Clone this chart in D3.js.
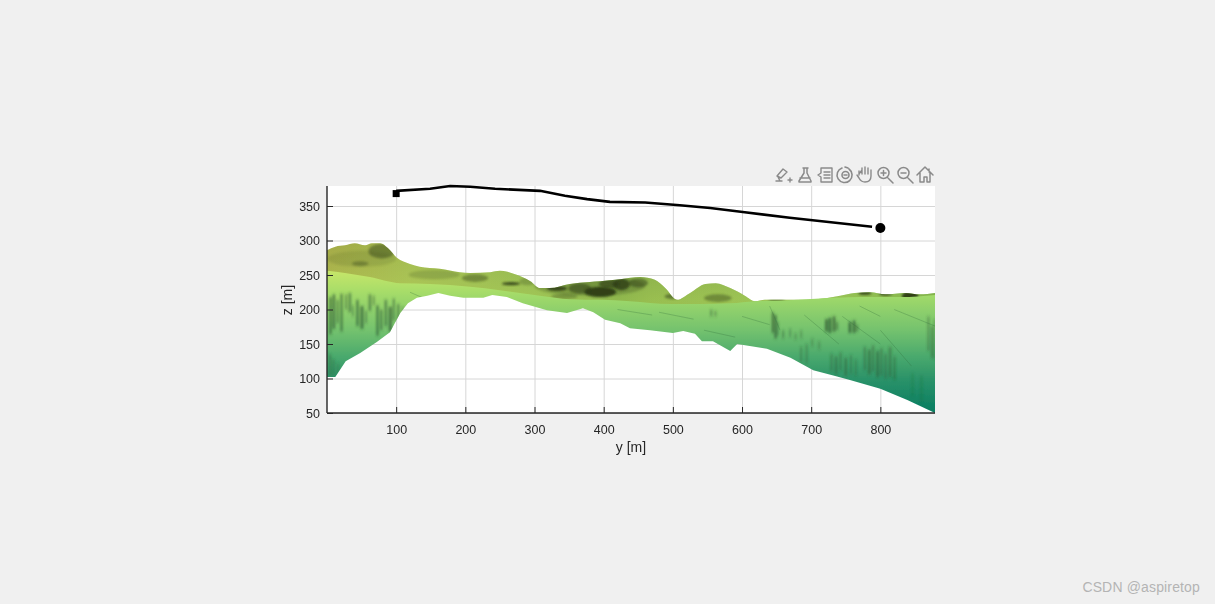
<!DOCTYPE html>
<html><head><meta charset="utf-8">
<script src="https://cdn.jsdelivr.net/npm/d3@7"></script>
<style>html,body{margin:0;padding:0;background:#f0f0f0;overflow:hidden}svg{display:block}text{font-family:"Liberation Sans",Arial,sans-serif}</style>
</head><body><svg id="c" width="1215" height="604"></svg>
<script>
// Flight path [y, z]
const pathY=[100,149,178,207,243,308,344,376,409,460,510,554,604,669,788];
const pathZ=[372,375,379,378,375,372,365,360,356,355,351,347,341,333,320];
const startPoint=[100,368], endPoint=[800,318];
// Terrain silhouette: far ridge
const ridgeY=[0,12,26,40,55,65,77,88,101,120,134,163,192,207,236,250,272,294,308,322,351,380,395,424,453,474,489,506,525,547,562,583,604,619,633,662,684,706,742,763,785,807,836,857,879];
const ridgeZ=[286,291,293,296,293,296,296,289,275,266,262,259,254,253,254,256,251,241,231,231,237,240,241,244,247,243,231,214,224,237,238,231,220,212,214,214,214,215,220,224,225,222,224,222,224];
// Fold line between far slope and near face
const foldY=[0,26,62,106,149,207,250,308,351,395,438,496,539,583,619,662,713,771,829,879];
const foldZ=[256,253,247,238,237,233,228,220,215,214,212,208,208,209,212,213,216,218,218,221];
// Lower edge of the near face
const edgeY=[0,12,27,48,72,91,106,117,130,145,161,178,197,226,239,260,283,318,347,370,385,402,424,438,467,500,515,532,542,558,583,593,636,670,703,756,800,839,879];
const edgeZ=[102,102,125,137,153,167,195,209,217,220,224,220,217,217,221,218,209,199,195,202,196,185,180,173,170,166,169,165,154,154,140,150,143,130,112,98,85,69,50];
// Vertical streaks on the near face [y,width,zTop,zBottom,opacity]
const faceStreaks=[[3,4,218,164,.55],[8,4,222,172,.6],[14,3,214,180,.5],[19,4,223,168,.5],[26,3,222,200,.45],[31,4,224,196,.5],[36,3,206,190,.35],[42,4,214,176,.55],[48,5,205,172,.6],[55,3,198,180,.4],[60,4,222,198,.5],[66,3,220,206,.4],[71,4,206,162,.55],[77,3,200,170,.6],[83,4,214,176,.5],[89,5,204,168,.6],[95,3,216,184,.5],[101,4,208,176,.45],[108,3,204,186,.35],
[3,3,135,104,.4],[8,3,128,104,.35],[14,3,122,106,.25],
[554,3,200,190,.45],[560,3,198,190,.4],[643,3,196,166,.7],[647,3,192,158,.75],[651,2,182,162,.55],[658,3,170,158,.4],[668,3,172,160,.35],[676,3,166,156,.3],[684,3,170,158,.3],
[720,4,186,168,.7],[725,4,188,166,.75],[731,4,190,168,.7],[736,3,182,170,.5],[754,4,182,166,.75],[760,4,184,166,.7],[765,3,178,168,.5],
[700,3,158,146,.3],[710,3,154,142,.3],[684,3,146,124,.35],[692,3,150,122,.35],
[728,3,136,110,.4],[734,4,132,106,.45],[741,3,138,112,.4],[748,4,130,104,.45],[756,3,134,106,.35],[763,3,128,104,.3],
[776,3,146,112,.45],[782,4,142,106,.5],[788,3,148,110,.45],[794,4,140,102,.5],[800,3,144,104,.45],[806,3,136,100,.45],[812,4,146,102,.4],[819,3,132,98,.4],
[868,3,190,140,.4],[873,3,176,130,.45],[877,2,186,128,.4],[845,3,108,74,.15],[858,3,104,66,.15]];
// Dark hollows on the far slope [y0,y1,zTop,zBottom,opacity]
const ridgeShade=[[300,460,248,220,.25],[372,418,233,218,.95],[253,279,240,235,.85],[318,347,234,227,.85],[413,438,245,228,.8],[60,98,295,274,.45],[36,60,270,263,.35],[195,233,251,240,.4],[545,585,222,211,.4],[436,464,245,232,.5],[831,855,226,213,.95],[488,512,223,215,.5],[349,382,238,223,.55],[393,422,243,231,.65],[768,787,227,221,.8],[798,817,226,220,.8],[278,302,246,235,.25],[638,662,217,212,.7],[118,192,257,244,.18],[324,362,223,215,.3],[0,100,285,262,.12]];
// Thin creases on the near face [y0,z0,y1,z1]
const creases=[[640,205,655,170],[690,192,740,150],[745,190,800,150],[800,170,845,118],[600,190,640,178],[480,196,530,186],[820,200,879,176],[420,200,470,192],[120,225,150,212],[545,170,590,160],[770,205,800,190]];
const faceStops=[[256,"#c6e669"],[225,"#a6dc69"],[200,"#8fd06c"],[170,"#74c26e"],[130,"#48a86d"],[100,"#2c9369"],[50,"#067c61"]];
const ridgeStops=[[0,"#a4aa46"],[120,"#a0ba4e"],[300,"#8cb44c"],[420,"#6f9c40"],[470,"#7fa845"],[560,"#84ad48"],[700,"#86b64f"],[879,"#5f9a3e"]];
const yTicks=[100,200,300,400,500,600,700,800], zTicks=[50,100,150,200,250,300,350];

const svg=d3.select("#c");
const L=327,R=935,T=186,B=413;
const x=d3.scaleLinear().domain([0,879]).range([L,R]);
const z=d3.scaleLinear().domain([50,379]).range([B,T]);
const defs=svg.append("defs");
const fg=defs.append("linearGradient").attr("id","fg").attr("gradientUnits","userSpaceOnUse").attr("x1",0).attr("x2",0).attr("y1",z(256)).attr("y2",z(50));
faceStops.forEach(s=>fg.append("stop").attr("offset",(256-s[0])/206).attr("stop-color",s[1]));
const rg=defs.append("linearGradient").attr("id","rg").attr("gradientUnits","userSpaceOnUse").attr("x1",L).attr("x2",R).attr("y1",0).attr("y2",0);
ridgeStops.forEach(s=>rg.append("stop").attr("offset",s[0]/879).attr("stop-color",s[1]));
const rl=defs.append("linearGradient").attr("id","rl").attr("gradientUnits","userSpaceOnUse").attr("x1",0).attr("x2",0).attr("y1",z(296)).attr("y2",z(215));
rl.append("stop").attr("offset",0).attr("stop-color","#ccd870").attr("stop-opacity",0);
rl.append("stop").attr("offset",1).attr("stop-color","#bfe062").attr("stop-opacity",.4);
const b1=defs.append("filter").attr("id","b1").attr("x","-30%").attr("y","-30%").attr("width","160%").attr("height","160%");
b1.append("feGaussianBlur").attr("stdDeviation",1.1);
const b2=defs.append("filter").attr("id","b2").attr("filterUnits","userSpaceOnUse").attr("x",L).attr("y",T).attr("width",R-L).attr("height",B-T);
b2.append("feGaussianBlur").attr("stdDeviation","0.8 1.6");
const b3=defs.append("filter").attr("id","b3").attr("x","-2%").attr("y","-2%").attr("width","104%").attr("height","104%");
b3.append("feGaussianBlur").attr("stdDeviation",.4);

const ridgePts=ridgeY.map((d,i)=>[d,ridgeZ[i]]), foldPts=foldY.map((d,i)=>[d,foldZ[i]]), edgePts=edgeY.map((d,i)=>[d,edgeZ[i]]);
const line=d3.line().x(d=>x(d[0])).y(d=>z(d[1]));
const curve=d3.line().x(d=>x(d[0])).y(d=>z(d[1])).curve(d3.curveMonotoneX);
const rev=a=>a.slice().reverse();
const ridgeD=curve(ridgePts)+"L"+line(rev(foldPts.map(d=>[d[0],d[1]-4]))).slice(1)+"Z";
const faceD=curve(foldPts)+"L"+line(rev(edgePts)).slice(1)+"Z";
defs.append("clipPath").attr("id","cr").append("path").attr("d",ridgeD);
defs.append("clipPath").attr("id","cf").append("path").attr("d",faceD);

// plot background + grid
svg.append("rect").attr("x",L).attr("y",T).attr("width",R-L).attr("height",B-T).attr("fill","#fff");
const g=svg.append("g");
g.append("g").attr("transform",`translate(0,${B})`).call(d3.axisBottom(x).tickValues(yTicks).tickSize(-(B-T)).tickFormat(""));
g.append("g").attr("transform",`translate(${L},0)`).call(d3.axisLeft(z).tickValues(zTicks).tickSize(-(R-L)).tickFormat(""));
g.selectAll(".domain").remove();
g.selectAll(".tick line").attr("stroke","#d6d6d6").attr("stroke-width",1);

// terrain
const ter=svg.append("g").attr("filter","url(#b3)");
ter.append("path").attr("d",ridgeD).attr("fill","url(#rg)");
ter.append("path").attr("d",ridgeD).attr("fill","url(#rl)");
ter.append("g").attr("clip-path","url(#cr)").selectAll("ellipse").data(ridgeShade).join("ellipse")
 .attr("cx",d=>x((d[0]+d[1])/2)).attr("rx",d=>(x(d[1])-x(d[0]))/2).attr("cy",d=>z((d[2]+d[3])/2)).attr("ry",d=>(z(d[3])-z(d[2]))/2)
 .attr("opacity",d=>d[4]).attr("fill","#2f3d17").attr("filter","url(#b1)");
ter.append("path").attr("d",faceD).attr("fill","url(#fg)");
const fs=ter.append("g").attr("clip-path","url(#cf)");
fs.append("g").attr("filter","url(#b2)").selectAll("rect").data(faceStreaks).join("rect")
 .attr("x",d=>x(d[0])).attr("width",d=>x(d[0]+d[1])-x(d[0])).attr("y",d=>z(d[2])).attr("height",d=>z(d[3])-z(d[2]))
 .attr("opacity",d=>d[4]).attr("fill","#2c5630");
fs.append("g").selectAll("line").data(creases).join("line")
 .attr("x1",d=>x(d[0])).attr("y1",d=>z(d[1])).attr("x2",d=>x(d[2])).attr("y2",d=>z(d[3]))
 .attr("stroke","#2f6a3a").attr("stroke-width",.7).attr("opacity",.4);

// axes
const ax=svg.append("g").attr("transform",`translate(0,${B})`).call(d3.axisBottom(x).tickValues(yTicks).tickSize(-6).tickPadding(12));
const az=svg.append("g").attr("transform",`translate(${L},0)`).call(d3.axisLeft(z).tickValues(zTicks).tickSize(-6).tickPadding(7));
[ax,az].forEach(a=>{a.selectAll(".domain").attr("stroke","#262626").attr("stroke-width",1.4).attr("d",a===ax?`M${L},0H${R}`:`M0,${T}V${B}`);
 a.selectAll(".tick line").attr("stroke","#262626");
 a.selectAll("text").attr("fill","#262626").style("font-size","12.5px").style("font-family",'"Liberation Sans",Arial,sans-serif');});
svg.append("text").attr("x",631).attr("y",452).attr("text-anchor","middle").attr("fill","#262626").style("font-size","14px").text("y [m]");
svg.append("text").attr("transform","translate(292,300) rotate(-90)").attr("text-anchor","middle").attr("fill","#262626").style("font-size","14px").text("z [m]");

// path & markers
svg.append("path").attr("d",line(pathY.map((d,i)=>[d,pathZ[i]]))).attr("fill","none").attr("stroke","#000").attr("stroke-width",2.6);
svg.append("rect").attr("x",x(startPoint[0])-3.5).attr("y",z(startPoint[1])-3.5).attr("width",7).attr("height",7).attr("fill","#000");
svg.append("circle").attr("cx",x(endPoint[0])).attr("cy",z(endPoint[1])).attr("r",5).attr("fill","#000");

// toolbar
const tb=svg.append("g").attr("fill","none").attr("stroke","#8a8a8a").attr("stroke-width",1.4).attr("stroke-linejoin","round").attr("stroke-linecap","round");
const icon=(cx,d,sw)=>tb.append("path").attr("transform",`translate(${cx},175)`).attr("d",d).attr("stroke-width",sw||1.4);
icon(784,"M-8,6H-2M-7,1L-1,-6L3,-3L-3,3ZM-4,6L-6,2M4,5H8M6,3V7");
icon(805,"M-2,-7H3M-1,-7V-2L-6,6V7H6V6L2,-2V-7M-5,3H5",1.5);
icon(825,"M-4,-7H7V7H-4V2L-7,0L-4,-2ZM-1,-3H5M-1,0H5M-1,3H5");
icon(845,"M-3,-7A7.5,7.5 0 1 0 4,-6M0,-8L3,-7M-3,0A3.5,3.5 0 1 0 4,0A3.5,3.5 0 1 0 -3,0M-1,0H2",1.6);
icon(865,"M-6,0V-4M-6,-1L-3,-5V-7M-3,-1V-7M0,-1V-8M3,-1V-7M6,1V-5M6,1C6,5 4,7 0,7C-3,7 -5,5 -6,3L-8,0");
icon(885,"M-7,-2A5.5,5.5 0 1 0 4,-2A5.5,5.5 0 1 0 -7,-2M3,3L8,8M-4,-2H1M-1.5,-4.5V0.5",1.5);
icon(905,"M-7,-2A5.5,5.5 0 1 0 4,-2A5.5,5.5 0 1 0 -7,-2M3,3L8,8M-4,-2H1",1.5);
icon(925,"M-8,0L0,-8L8,0M-5,-2V7H-1V2H2V7H5V-2M4,-6V-3",1.5);

// watermark
svg.append("text").attr("x",1200).attr("y",592).attr("text-anchor","end").attr("fill","#b4b4b4").style("font-size","14px").style("letter-spacing","0.15px").style("font-family",'"Liberation Sans",Arial,sans-serif').text("CSDN @aspiretop");
</script></body></html>
